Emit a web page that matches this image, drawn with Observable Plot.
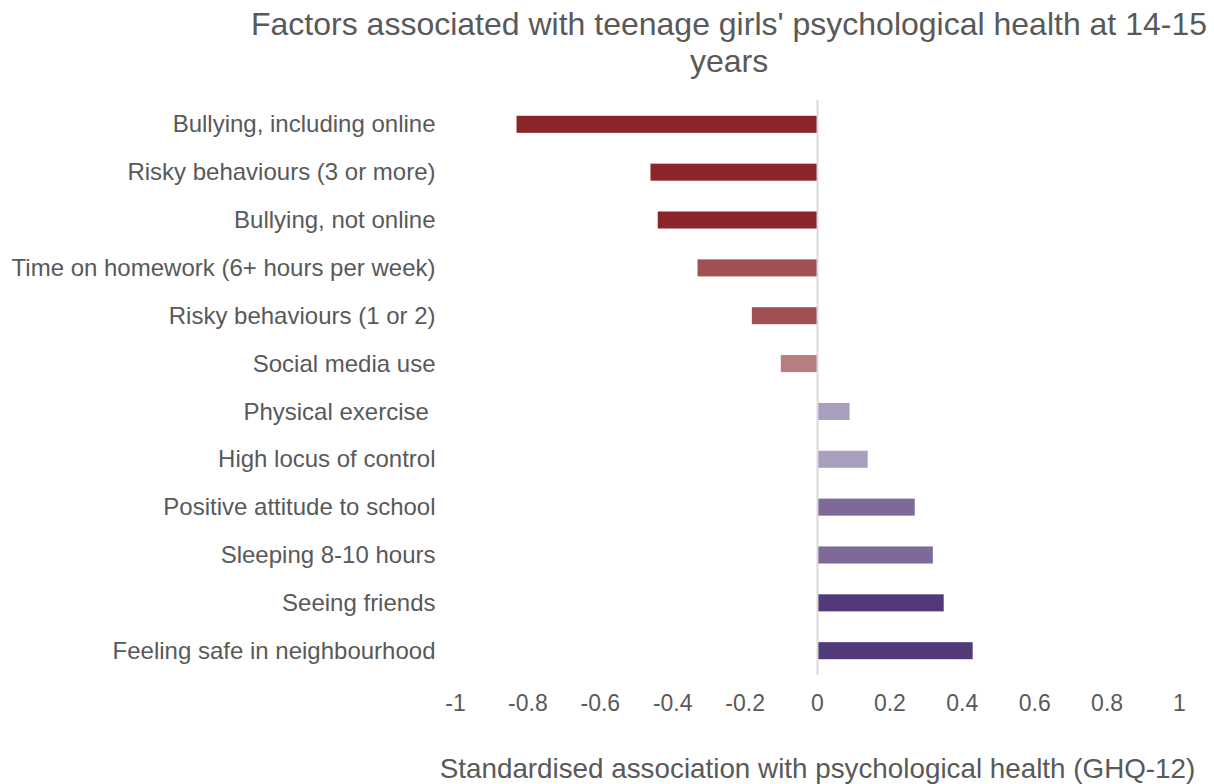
<!DOCTYPE html>
<html>
<head>
<meta charset="utf-8">
<script src="https://cdn.jsdelivr.net/npm/d3@7"></script>
<script src="https://cdn.jsdelivr.net/npm/@observablehq/plot@0.6"></script>
<style>
  html, body { margin: 0; padding: 0; background: #fff; }
  #wrap { position: relative; width: 1214px; height: 784px; overflow: hidden; }
  #title { position: absolute; left: 229px; width: 1000px; top: 6px; text-align: center;
    font-family: "Liberation Sans", Arial, sans-serif; font-size: 32px; line-height: 37px; color: #595959; white-space: nowrap; }
  #chart { position: absolute; left: 0; top: 0; }
</style>
</head>
<body>
<div id="wrap">
  <div id="chart"></div>
  <div id="title">Factors associated with teenage girls' psychological health at 14-15<br>years</div>
</div>
<script>
const categories = [
  "Bullying, including online",
  "Risky behaviours (3 or more)",
  "Bullying, not online",
  "Time on homework (6+ hours per week)",
  "Risky behaviours (1 or 2)",
  "Social media use",
  "Physical exercise ",
  "High locus of control",
  "Positive attitude to school",
  "Sleeping 8-10 hours",
  "Seeing friends",
  "Feeling safe in neighbourhood"
];
const values = [-0.83, -0.46, -0.44, -0.33, -0.18, -0.10, 0.09, 0.14, 0.27, 0.32, 0.35, 0.43];
const colors = ["#8B2529", "#8B2529", "#8B2529", "#A05055", "#A05055", "#B87D7F",
                "#A99EBE", "#A99EBE", "#7D6A99", "#7D6A99", "#523A7A", "#523A7A"];
const xTicks = [-1, -0.8, -0.6, -0.4, -0.2, 0, 0.2, 0.4, 0.6, 0.8, 1];

const data = categories.map((c, i) => ({category: c, value: values[i], color: colors[i]}));

const chart = Plot.plot({
  width: 1214,
  height: 784,
  marginLeft: 455,
  marginRight: 35,
  marginTop: 100,
  marginBottom: 109,
  style: {fontFamily: "'Liberation Sans', Arial, sans-serif", color: "#595959", background: "#fff"},
  x: {domain: [-1, 1]},
  y: {domain: categories, paddingInner: 0.644, paddingOuter: 0.33, round: false},
  marks: [
    Plot.barX(data, {y: "category", x: "value", fill: "color"}),
    Plot.ruleX([0], {stroke: "#d9d9d9", strokeWidth: 2}),
    Plot.axisY({tickSize: 0, tickPadding: 20, fontSize: 24, label: null}),
    Plot.axisX({ticks: xTicks, tickSize: 0, tickPadding: 19, fontSize: 23, label: null, tickFormat: d => String(d)}),
    Plot.axisX({ticks: [], tickSize: 0, fontSize: 27.8, dx: 7, label: "Standardised association with psychological health (GHQ-12)",
      labelAnchor: "center", labelArrow: "none", labelOffset: 102})
  ]
});
document.getElementById("chart").appendChild(chart);
</script>
</body>
</html>
